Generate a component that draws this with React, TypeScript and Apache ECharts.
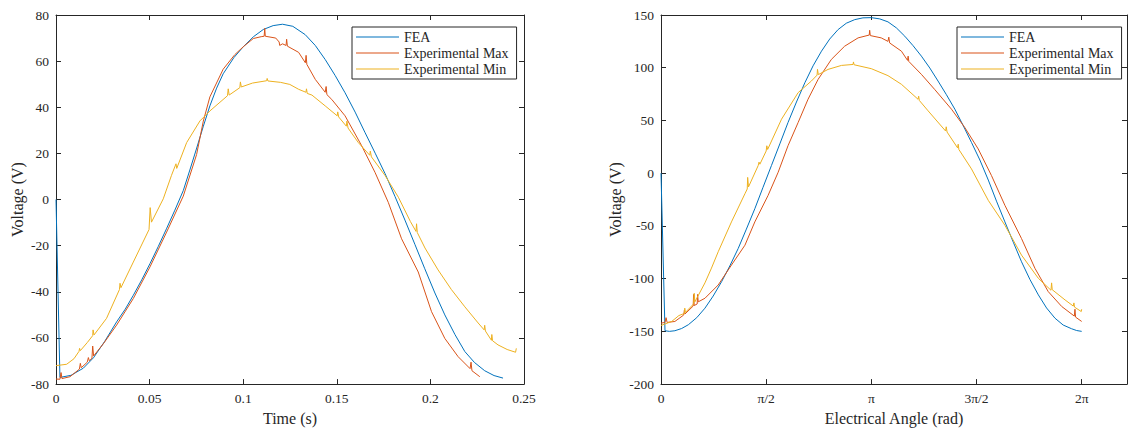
import React, { useEffect, useRef } from 'react';
import * as echarts from 'echarts';

const FONT = '"Liberation Serif", "Times New Roman", serif';
const AXIS_COLOR = '#262626';
const SERIES_NAMES = ['FEA', 'Experimental Max', 'Experimental Min'];
const SERIES_COLORS = ['#0072BD', '#D95319', '#EDB120'];

// ---------- Left panel: Time (s) vs Voltage (V) ----------
const timeFEA = [0, 0.0021, 0.008, 0.0146, 0.02, 0.026, 0.0324, 0.037, 0.0413, 0.0458, 0.0502, 0.0546, 0.059, 0.0635, 0.068, 0.0715, 0.075, 0.0786, 0.0822, 0.0858, 0.0893, 0.095, 0.1, 0.1055, 0.1107, 0.116, 0.121, 0.1265, 0.1331, 0.1385, 0.1438, 0.1491, 0.1544, 0.1598, 0.1651, 0.1705, 0.1758, 0.1811, 0.1864, 0.1917, 0.197, 0.2024, 0.2077, 0.2131, 0.2184, 0.2235, 0.229, 0.234, 0.2388];
const voltFEA = [0, -77.1, -76.2, -73.1, -68.6, -61.5, -53, -47.5, -41.5, -34.8, -27.8, -20.4, -12.7, -4.6, 3.9, 12.8, 21.9, 31.5, 40.6, 48.3, 54.5, 61.5, 66.2, 70.6, 73.7, 75.4, 76, 75.1, 71.5, 66.8, 60.7, 53.8, 46.3, 37.9, 29, 20.1, 11.2, 1.3, -8.9, -19.4, -30, -40.5, -50, -58.5, -65.9, -70.6, -74.2, -76.3, -77.4];

const timeMax = [0, 0.0021, 0.0027, 0.0032, 0.0075, 0.0125, 0.013, 0.0135, 0.0167, 0.0173, 0.0178, 0.0192, 0.0196, 0.0201, 0.0253, 0.0324, 0.0413, 0.0502, 0.0591, 0.068, 0.0751, 0.0787, 0.0822, 0.0893, 0.0955, 0.1, 0.1054, 0.1096, 0.1112, 0.1115, 0.1118, 0.1174, 0.1192, 0.1195, 0.121, 0.1229, 0.1232, 0.1236, 0.1296, 0.1332, 0.1336, 0.134, 0.1385, 0.1438, 0.1443, 0.1447, 0.1473, 0.1544, 0.1633, 0.1704, 0.1775, 0.1846, 0.1935, 0.2006, 0.2077, 0.2148, 0.2212, 0.2217, 0.2222, 0.2264];
const voltMax = [-77.8, -77.9, -75.0, -77.6, -76.8, -73.5, -71.0, -72.9, -70.5, -68.5, -69.9, -68.8, -63.5, -67.8, -62.5, -54.4, -42.9, -29.2, -14.1, 1.5, 19.5, 34, 44.5, 56.5, 62.8, 66.2, 69.8, 70.6, 70.8, 74.2, 70.8, 70, 68.3, 66.8, 67.5, 66.8, 69.5, 66.5, 63.8, 59.3, 62.5, 58.6, 52.1, 46.5, 49, 45.5, 43.4, 36.3, 23.3, 11.8, -1.2, -17, -31.4, -48.6, -60.2, -68.1, -73.3, -70.5, -74.2, -76.8];

const timeMin = [0, 0.0057, 0.0096, 0.0123, 0.0126, 0.013, 0.0167, 0.0196, 0.0198, 0.0203, 0.027, 0.0339, 0.0342, 0.0347, 0.0413, 0.0497, 0.0503, 0.051, 0.0573, 0.0617, 0.0641, 0.0645, 0.0698, 0.0769, 0.0822, 0.0916, 0.092, 0.0925, 0.0982, 0.0985, 0.099, 0.105, 0.1125, 0.1128, 0.1132, 0.12, 0.1249, 0.1296, 0.1335, 0.1338, 0.1342, 0.1367, 0.1438, 0.1502, 0.1505, 0.151, 0.1551, 0.1554, 0.156, 0.1615, 0.1676, 0.1679, 0.1685, 0.1758, 0.1829, 0.1893, 0.1923, 0.1926, 0.193, 0.1971, 0.2041, 0.2112, 0.2184, 0.2255, 0.2287, 0.229, 0.2294, 0.2326, 0.2328, 0.2332, 0.2361, 0.241, 0.2455, 0.2459];
const voltMin = [-72, -71.4, -69, -65.8, -64.5, -65.5, -62, -59, -56.5, -58.7, -51.5, -39, -36.3, -38.2, -27.1, -13, -3.5, -9.8, 0.3, 10.5, 15.5, 13.5, 24.7, 34.1, 38.4, 45, 48, 45.3, 48.5, 51, 48.8, 50.5, 51.5, 52.5, 51.4, 50.8, 49.9, 47.8, 46.5, 48, 46, 45.3, 40.6, 36.3, 38, 35.8, 31.8, 34, 31, 24.7, 19.2, 21, 18.5, 10.4, 1.0, -9.5, -13.8, -10.5, -14.3, -21, -30.5, -39, -46.5, -53.5, -56.5, -54.5, -57, -61, -58.5, -61.2, -63, -65, -66.2, -64.5];

const timeTicks = { min: 0, max: 0.25, interval: 0.05 };
const leftVoltTicks = { min: -80, max: 80, interval: 20 };

// ---------- Right panel: Electrical angle (multiples of pi) vs Voltage (V) ----------
const anglePiFEA = [0, 0.019, 0.04, 0.066, 0.098, 0.13, 0.17, 0.209, 0.248, 0.288, 0.327, 0.367, 0.406, 0.446, 0.485, 0.525, 0.565, 0.604, 0.644, 0.684, 0.723, 0.763, 0.802, 0.842, 0.881, 0.921, 0.96, 1.0, 1.04, 1.079, 1.119, 1.159, 1.198, 1.238, 1.278, 1.317, 1.357, 1.397, 1.436, 1.476, 1.516, 1.556, 1.595, 1.635, 1.675, 1.714, 1.754, 1.794, 1.833, 1.873, 1.912, 1.952, 1.976, 2.0];
const voltRFEA = [0, -149.4, -150, -149.4, -147.3, -143.7, -137, -128, -116.5, -102.9, -88, -71.4, -53, -33.7, -13.4, 7.2, 27.8, 48.1, 67.5, 85.8, 101.8, 115.7, 127.2, 136.2, 142.2, 145.6, 147.3, 147.5, 146.3, 143.5, 137.8, 129.9, 121, 111, 99.7, 87.4, 74.4, 60.7, 45.4, 29.2, 12.5, -6.5, -26.5, -46.2, -65.5, -84, -100.8, -115.4, -127.8, -137.5, -144, -147.5, -149.2, -150];

const anglePiMax = [0, 0.019, 0.024, 0.029, 0.066, 0.108, 0.111, 0.114, 0.153, 0.155, 0.158, 0.172, 0.174, 0.177, 0.209, 0.272, 0.335, 0.399, 0.446, 0.509, 0.557, 0.604, 0.652, 0.699, 0.747, 0.81, 0.873, 0.937, 0.99, 0.992, 0.995, 1.047, 1.079, 1.083, 1.087, 1.143, 1.172, 1.175, 1.178, 1.238, 1.302, 1.381, 1.444, 1.508, 1.571, 1.635, 1.714, 1.778, 1.841, 1.905, 1.965, 1.968, 1.971, 2.0];
const voltRMax = [-142.2, -141.5, -137, -141.5, -140.6, -134.5, -130, -133.5, -126, -115, -125.5, -124, -115, -122, -118.6, -106, -87.1, -68.3, -46.2, -21.1, 0.9, 26.1, 48.1, 70.1, 89, 107.9, 120.4, 128.3, 131, 135.5, 130.5, 128.3, 125, 129, 123.5, 115.7, 107, 111, 106, 93.7, 79.2, 60.7, 43.4, 23, -2.2, -30.5, -62, -90.3, -112.3, -126.4, -135.5, -129, -136.5, -140.6];

const anglePiMin = [0, 0.051, 0.085, 0.111, 0.113, 0.116, 0.155, 0.158, 0.161, 0.209, 0.24, 0.272, 0.335, 0.399, 0.41, 0.412, 0.416, 0.462, 0.466, 0.47, 0.5, 0.503, 0.507, 0.573, 0.652, 0.715, 0.742, 0.744, 0.748, 0.794, 0.858, 0.913, 0.915, 0.918, 1.0, 1.079, 1.143, 1.222, 1.225, 1.228, 1.27, 1.353, 1.356, 1.36, 1.41, 1.413, 1.416, 1.476, 1.556, 1.635, 1.714, 1.794, 1.854, 1.857, 1.86, 1.921, 1.96, 1.963, 1.966, 1.998, 2.0];
const voltRMin = [-144.4, -140.6, -135, -133, -128, -132, -124, -113.9, -122, -104, -90, -74.5, -46.2, -19.5, -15, -4, -13, 7.2, 10.5, 8.5, 21, 26, 22.5, 51.2, 76.4, 87.4, 93, 98.5, 93.5, 98.4, 102.2, 103.1, 105.5, 102.8, 99.1, 92.5, 84.3, 70.1, 73, 69, 59.1, 40, 44, 39, 24, 27.5, 22.5, 4.1, -25.8, -49.4, -77.7, -99.7, -111, -104, -110.5, -120.2, -126, -123, -127, -131.2, -129];

const angleTickValuesPi = [0, 0.5, 1, 1.5, 2];
const angleTickLabels = ['0', 'π/2', 'π', '3π/2', '2π'];
const angleAxisMax = 6.96;
const rightVoltTicks = { min: -200, max: 150, interval: 50 };

const zip = (xs: number[], ys: number[], scale = 1) => xs.map((x, i) => [x * scale, ys[i]]);

function buildOption() {
  const angleTickValues = angleTickValuesPi.map((v) => v * Math.PI);
  const line = { show: true, onZero: false, lineStyle: { color: AXIS_COLOR, width: 1 } };
  const tick = { show: true, inside: true, length: 5, lineStyle: { color: AXIS_COLOR, width: 1 } };
  const label = { color: AXIS_COLOR, fontFamily: FONT, fontSize: 13.5, margin: 7 };
  const nameStyle = { color: AXIS_COLOR, fontFamily: FONT, fontSize: 16 };

  const legendBase = {
    orient: 'vertical',
    top: 27,
    icon: 'rect',
    itemWidth: 43,
    itemHeight: 1.2,
    itemGap: 0,
    padding: [2, 8, 2, 4],
    borderColor: AXIS_COLOR,
    borderWidth: 1,
    backgroundColor: '#ffffff',
    selectedMode: false,
    textStyle: { fontFamily: FONT, fontSize: 14, color: AXIS_COLOR, lineHeight: 16 },
    data: SERIES_NAMES,
  };

  const mk = (name: string, idx: number, data: number[][], axis: number) => ({
    type: 'line',
    name,
    xAxisIndex: axis,
    yAxisIndex: axis,
    data,
    showSymbol: false,
    symbol: 'none',
    color: SERIES_COLORS[idx],
    lineStyle: { color: SERIES_COLORS[idx], width: 1 },
    emphasis: { disabled: true },
  });

  return {
    animation: false,
    backgroundColor: '#ffffff',
    grid: [
      { left: 56, top: 15, width: 468, height: 371 },
      { left: 661, top: 15, width: 466, height: 371 },
    ],
    legend: [
      { ...legendBase, left: 352 },
      { ...legendBase, left: 957 },
    ],
    xAxis: [
      {
        type: 'value', gridIndex: 0, position: 'bottom', ...timeTicks,
        axisLine: line, axisTick: tick, splitLine: { show: false }, axisLabel: label,
        name: 'Time (s)', nameLocation: 'middle', nameGap: 25, nameTextStyle: nameStyle,
      },
      {
        type: 'value', gridIndex: 0, position: 'top', ...timeTicks,
        axisLine: line, axisTick: tick, splitLine: { show: false }, axisLabel: { show: false },
      },
      {
        type: 'value', gridIndex: 1, position: 'bottom', min: 0, max: angleAxisMax,
        axisLine: line,
        axisTick: { ...tick, customValues: angleTickValues },
        splitLine: { show: false },
        axisLabel: {
          ...label,
          customValues: angleTickValues,
          formatter: (v: number) => {
            let best = 0;
            angleTickValues.forEach((t, i) => { if (Math.abs(t - v) < Math.abs(angleTickValues[best] - v)) best = i; });
            return angleTickLabels[best];
          },
        },
        name: 'Electrical Angle (rad)', nameLocation: 'middle', nameGap: 25, nameTextStyle: nameStyle,
      },
      {
        type: 'value', gridIndex: 1, position: 'top', min: 0, max: angleAxisMax,
        axisLine: line, axisTick: { ...tick, customValues: angleTickValues }, splitLine: { show: false },
        axisLabel: { show: false },
      },
    ],
    yAxis: [
      {
        type: 'value', gridIndex: 0, position: 'left', ...leftVoltTicks,
        axisLine: line, axisTick: tick, splitLine: { show: false }, axisLabel: label,
        name: 'Voltage (V)', nameLocation: 'middle', nameGap: 31, nameTextStyle: nameStyle,
      },
      {
        type: 'value', gridIndex: 0, position: 'right', ...leftVoltTicks,
        axisLine: line, axisTick: tick, splitLine: { show: false }, axisLabel: { show: false },
      },
      {
        type: 'value', gridIndex: 1, position: 'left', ...rightVoltTicks,
        axisLine: line, axisTick: tick, splitLine: { show: false }, axisLabel: label,
        name: 'Voltage (V)', nameLocation: 'middle', nameGap: 38, nameTextStyle: nameStyle,
      },
      {
        type: 'value', gridIndex: 1, position: 'right', ...rightVoltTicks,
        axisLine: line, axisTick: tick, splitLine: { show: false }, axisLabel: { show: false },
      },
    ],
    series: [
      mk(SERIES_NAMES[0], 0, zip(timeFEA, voltFEA), 0),
      mk(SERIES_NAMES[1], 1, zip(timeMax, voltMax), 0),
      mk(SERIES_NAMES[2], 2, zip(timeMin, voltMin), 0),
      mk(SERIES_NAMES[0], 0, zip(anglePiFEA, voltRFEA, Math.PI), 2),
      mk(SERIES_NAMES[1], 1, zip(anglePiMax, voltRMax, Math.PI), 2),
      mk(SERIES_NAMES[2], 2, zip(anglePiMin, voltRMin, Math.PI), 2),
    ],
  };
}

export default function App() {
  const ref = useRef<HTMLDivElement>(null);
  useEffect(() => {
    if (!ref.current) return;
    const chart = echarts.init(ref.current, null, { renderer: 'svg' });
    chart.setOption(buildOption() as any);
    return () => chart.dispose();
  }, []);
  return (
    <div
      ref={ref}
      style={{ position: 'fixed', left: 0, top: 0, width: 1128, height: 431, background: '#fff' }}
    />
  );
}
